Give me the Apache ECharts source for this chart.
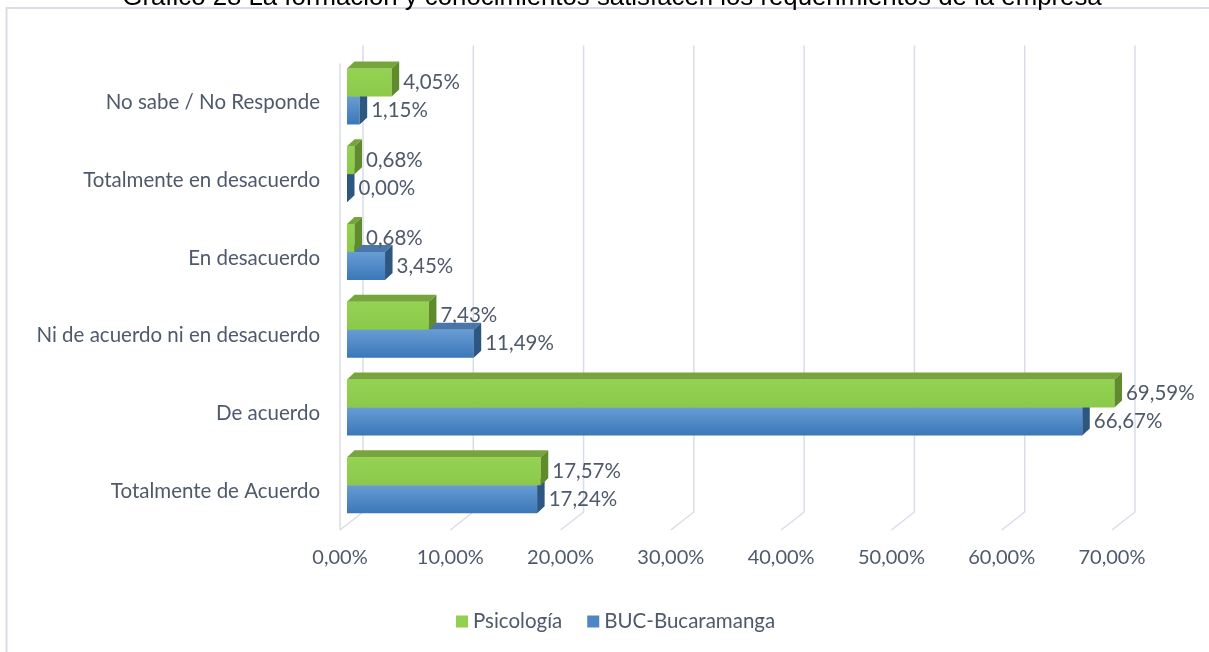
<!doctype html>
<html lang="es">
<head>
    <meta charset="UTF-8">
    <title>Gráfico 28</title>
    <style>
        html, body { margin: 0; padding: 0; background: #fff; }
        #chart { width: 1209px; height: 652px; }
    </style>
</head>
<body>
    <div id="chart"></div>

    <script src="https://cdn.jsdelivr.net/npm/echarts@6/dist/echarts.min.js"></script>
    <script>
        // categorias de abajo hacia arriba
        var categorias = ['Totalmente de Acuerdo', 'De acuerdo', 'Ni de acuerdo ni en desacuerdo',
            'En desacuerdo', 'Totalmente en desacuerdo', 'No sabe / No Responde'];
        var psicologia = [17.57, 69.59, 7.43, 0.68, 0.68, 4.05];
        var bucaramanga = [17.24, 66.67, 11.49, 3.45, 0.00, 1.15];
        var ticksX = [0, 10, 20, 30, 40, 50, 60, 70];

        var textColor = '#4e5a6b';
        var fuente = 'Lato';

        function pct(v) {
            return v.toFixed(2).replace('.', ',') + '%';
        }

        // barra "3D": cara frontal, superior y lateral
        function barra(colores, arriba) {
            return function (params, api) {
                var v = api.value(0), i = api.value(1);
                var base = api.coord([0, i]);
                var fin = api.coord([v, i]);
                var h = 28;
                var cy = base[1] - 6;
                var y0 = arriba ? cy - h : cy;
                var x0 = base[0] + 7, x1 = fin[0] + 7;
                var dx = 7.5, dy = -7;
                return {
                    type: 'group',
                    children: [
                        {
                            type: 'rect',
                            shape: { x: x0, y: y0, width: x1 - x0, height: h },
                            style: {
                                fill: new echarts.graphic.LinearGradient(0, 0, 0, 1, [
                                    { offset: 0, color: colores[0] },
                                    { offset: 1, color: colores[1] }
                                ])
                            }
                        },
                        {
                            type: 'polygon',
                            shape: { points: [[x0, y0], [x1, y0], [x1 + dx, y0 + dy], [x0 + dx, y0 + dy]] },
                            style: { fill: colores[2] }
                        },
                        {
                            type: 'polygon',
                            shape: { points: [[x1, y0], [x1 + dx, y0 + dy], [x1 + dx, y0 + h + dy], [x1, y0 + h]] },
                            style: { fill: colores[3] }
                        },
                        {
                            type: 'text',
                            style: {
                                text: pct(v),
                                x: x1 + dx + 4,
                                y: y0 + h / 2,
                                textAlign: 'left',
                                textVerticalAlign: 'middle',
                                fill: textColor,
                                font: '20.5px ' + fuente
                            }
                        }
                    ]
                };
            };
        }

        // lineas de la pared del fondo y del piso
        function rejilla(params, api) {
            var v = api.value(0);
            var cs = params.coordSys;
            var x = api.coord([v, 0])[0];
            var arriba = cs.y, abajo = cs.y + cs.height;
            var hijos = [{
                type: 'polyline',
                shape: { points: [[x + 23, arriba - 18], [x + 23, abajo - 18], [x, abajo]] },
                style: { stroke: '#d9dde8', lineWidth: 1.5, fill: null }
            }];
            if (v === 0) {
                hijos.push({
                    type: 'line',
                    shape: { x1: x, y1: arriba, x2: x, y2: abajo },
                    style: { stroke: '#d9dde8', lineWidth: 1.5 }
                });
            }
            return { type: 'group', children: hijos };
        }

        var myChart = echarts.init(document.getElementById('chart'));

        var option = {
            backgroundColor: '#fff',
            animation: false,
            graphic: [
                {
                    type: 'rect',
                    shape: { x: 6.5, y: 8, width: 1220, height: 660 },
                    style: { fill: null, stroke: '#d9dde6', lineWidth: 2 },
                    z: -1
                },
                {
                    type: 'text',
                    style: {
                        text: 'Gráfico 28 La formación y conocimientos satisfacen los requerimientos de la empresa',
                        x: 612,
                        y: -2,
                        textAlign: 'center',
                        textVerticalAlign: 'middle',
                        fill: '#000',
                        font: '25.8px "Liberation Sans"'
                    }
                }
            ],
            legend: {
                data: ['Psicología', 'BUC-Bucaramanga'],
                left: 451,
                top: 606,
                icon: 'rect',
                itemWidth: 12,
                itemHeight: 12,
                itemGap: 25,
                textStyle: { color: textColor, fontSize: 20.5, fontFamily: fuente }
            },
            grid: {
                left: 340,
                right: 97,
                top: 63.6,
                bottom: 122
            },
            xAxis: {
                type: 'value',
                min: 0,
                max: 70,
                interval: 10,
                splitLine: { show: false },
                axisLine: { show: false },
                axisTick: { show: false },
                axisLabel: {
                    margin: 18,
                    color: textColor,
                    fontSize: 20,
                    fontFamily: fuente,
                    formatter: function (v) { return pct(v); }
                }
            },
            yAxis: {
                type: 'category',
                data: categorias,
                axisLine: { show: false },
                axisTick: { show: false },
                splitLine: { show: false },
                axisLabel: {
                    margin: 20,
                    color: textColor,
                    fontSize: 20.5,
                    fontFamily: fuente
                }
            },
            series: [
                {
                    name: 'rejilla',
                    type: 'custom',
                    silent: true,
                    z: 1,
                    renderItem: rejilla,
                    data: ticksX.map(function (t) { return [t, 0]; })
                },
                {
                    name: 'Psicología',
                    type: 'custom',
                    z: 4,
                    itemStyle: { color: '#92d050' },
                    renderItem: barra(['#94d352', '#8bc94a', '#76a63b', '#5f8b2c'], true),
                    data: psicologia.map(function (v, i) { return [v, i]; })
                },
                {
                    name: 'BUC-Bucaramanga',
                    type: 'custom',
                    z: 3,
                    itemStyle: { color: '#4f86c6' },
                    renderItem: barra(['#679dd4', '#3b77b8', '#4a76a9', '#2d5681'], false),
                    data: bucaramanga.map(function (v, i) { return [v, i]; })
                }
            ]
        };

        myChart.setOption(option);
    </script>
</body>
</html>
